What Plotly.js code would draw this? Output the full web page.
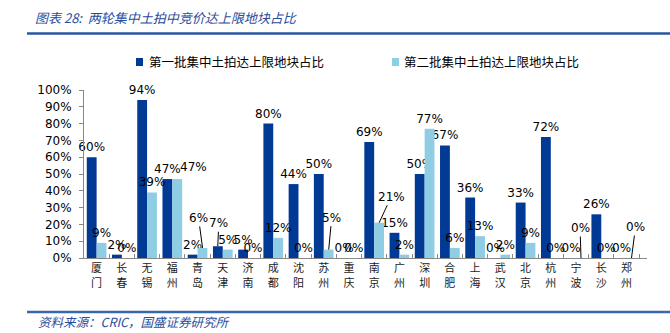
<!DOCTYPE html>
<html>
<head>
<meta charset="utf-8">
<script src="https://cdn.plot.ly/plotly-3.0.1.min.js"></script>
<style>html,body{margin:0;padding:0;background:#fff;}#chart{width:670px;height:333px;}</style>
</head>
<body>
<div id="chart"></div>
<script>
// ---- data ----
const categories = ['厦门','长春','无锡','福州','青岛','天津','济南','成都','沈阳','苏州','重庆',
                    '南京','广州','深圳','合肥','上海','武汉','北京','杭州','宁波','长沙','郑州'];
const seriesNames = ['第一批集中土拍达上限地块占比','第二批集中土拍达上限地块占比'];
const batch1 = [60, 2, 94, 47, 2, 7, 5, 80, 44, 50, 0, 69, 15, 50, 67, 36, 0, 33, 72, 0, 26, 0];
const batch2 = [9, 0, 39, 47, 6, 5, 0, 12, 0, 5, 0, 21, 2, 77, 6, 13, 2, 9, 0, 0, 0, 0];
const titleText = '图表 28:  两轮集中土拍中竞价达上限地块占比';
const sourceText = '资料来源：CRIC，国盛证券研究所';

// labels moved off their bar: [category, series index, dx, dy, leader line]
const callouts = [['青岛',1,-4,-30,true],['天津',0,1,-23,true],['苏州',1,3,-32,true],['南京',1,12,-26,true],
                  ['宁波',1,-1,-30,true],['郑州',1,4,-31,true],['福州',1,16,-12,false]];

// ---- layout helpers ----
const W = 670, H = 333, L = 84, R = 23, T = 90, B = 75;
const pw = W - L - R, ph = H - T - B;
const px = x => (x - L) / pw;
const py = y => (H - B - y) / ph;

const xcats = categories.map(c => c.split('').join('<br>'));
const colors = ['#003A95', '#8FCDE5'];
const series = [batch1, batch2];

const isCallout = (i, s) => callouts.some(c => c[0] === categories[i] && c[1] === s);

const traces = series.map((vals, s) => ({
  type: 'bar',
  name: seriesNames[s],
  x: xcats,
  y: vals,
  marker: {color: colors[s]},
  text: vals.map((v, i) => isCallout(i, s) ? '' : v + '%'),
  textposition: 'outside',
  textangle: 0,
  constraintext: 'none',
  cliponaxis: false,
  outsidetextfont: {family: 'DejaVu Sans', size: 12, color: '#000'},
  hoverinfo: 'none',
  showlegend: false
}));

const annotations = callouts.map(c => {
  const i = categories.indexOf(c[0]);
  const base = c[1] === 0 ? -5 : 5;
  const a = {
    x: xcats[i], y: series[c[1]][i], xref: 'x', yref: 'y',
    text: series[c[1]][i] + '%',
    font: {family: 'DejaVu Sans', size: 12, color: '#000'}
  };
  if (c[4]) {
    Object.assign(a, {xshift: base, showarrow: true, arrowhead: 0, arrowwidth: 1, arrowcolor: '#000',
      ax: c[2], ay: c[3], standoff: 0, startstandoff: 0});
  } else {
    Object.assign(a, {showarrow: false, xshift: base + c[2], yshift: -c[3], xanchor: 'center', yanchor: 'middle'});
  }
  return a;
});

// legend (custom) and source
const legX = [136, 392], legTextX = [147, 402], legY = 62;
seriesNames.forEach((n, s) => {
  annotations.push({
    xref: 'paper', yref: 'paper', x: px(legTextX[s]), y: py(legY),
    xanchor: 'left', yanchor: 'middle', showarrow: false, text: n,
    font: {family: 'Noto Sans CJK SC', size: 12.5, color: '#000'}
  });
});
annotations.push({
  xref: 'paper', yref: 'paper', x: px(36), y: py(321),
  xanchor: 'left', yanchor: 'middle', showarrow: false, text: sourceText,
  font: {family: 'Noto Sans CJK SC', size: 12.5, color: '#2B4C9B', style: 'italic'}
});

const shapes = [
  {type: 'line', xref: 'paper', yref: 'paper', x0: px(27), x1: px(670), y0: py(33.5), y1: py(33.5),
   line: {color: '#2A55A0', width: 2.5}},
  {type: 'line', xref: 'paper', yref: 'paper', x0: px(27), x1: px(670), y0: py(312), y1: py(312),
   line: {color: '#3A66AA', width: 2.5}}
];
legX.forEach((x, s) => {
  shapes.push({type: 'rect', xref: 'paper', yref: 'paper', x0: px(x), x1: px(x + 7), y0: py(legY - 4), y1: py(legY + 4),
    line: {width: 0}, fillcolor: colors[s]});
});

const layout = {
  width: W, height: H,
  margin: {l: L, r: R, t: T, b: B, pad: 0},
  paper_bgcolor: '#fff', plot_bgcolor: '#fff',
  barmode: 'group', bargap: 0.22, bargroupgap: 0,
  title: {text: titleText, x: 35 / W, xanchor: 'left', xref: 'container', y: 1 - 18 / H, yanchor: 'middle', yref: 'container',
    font: {family: 'Noto Sans CJK SC', size: 13, color: '#2B4C9B', style: 'italic'}},
  xaxis: {type: 'category', showline: true, linecolor: '#888', linewidth: 1, ticks: 'inside', ticklen: 4,
    tickcolor: '#888', tickson: 'boundaries', showgrid: false, zeroline: false,
    tickfont: {family: 'Noto Sans CJK SC', size: 11, color: '#222'}},
  yaxis: {range: [0, 100], dtick: 10, ticksuffix: '%', showline: true, linecolor: '#888', linewidth: 1,
    ticks: 'outside', ticklen: 4, tickcolor: '#888', showgrid: false, zeroline: false,
    ticklabelstandoff: 5,
    tickfont: {family: 'DejaVu Sans', size: 12, color: '#000'}},
  showlegend: false,
  annotations: annotations,
  shapes: shapes,
  font: {family: 'DejaVu Sans'}
};

Plotly.newPlot('chart', traces, layout, {displayModeBar: false, staticPlot: true});
</script>
</body>
</html>
